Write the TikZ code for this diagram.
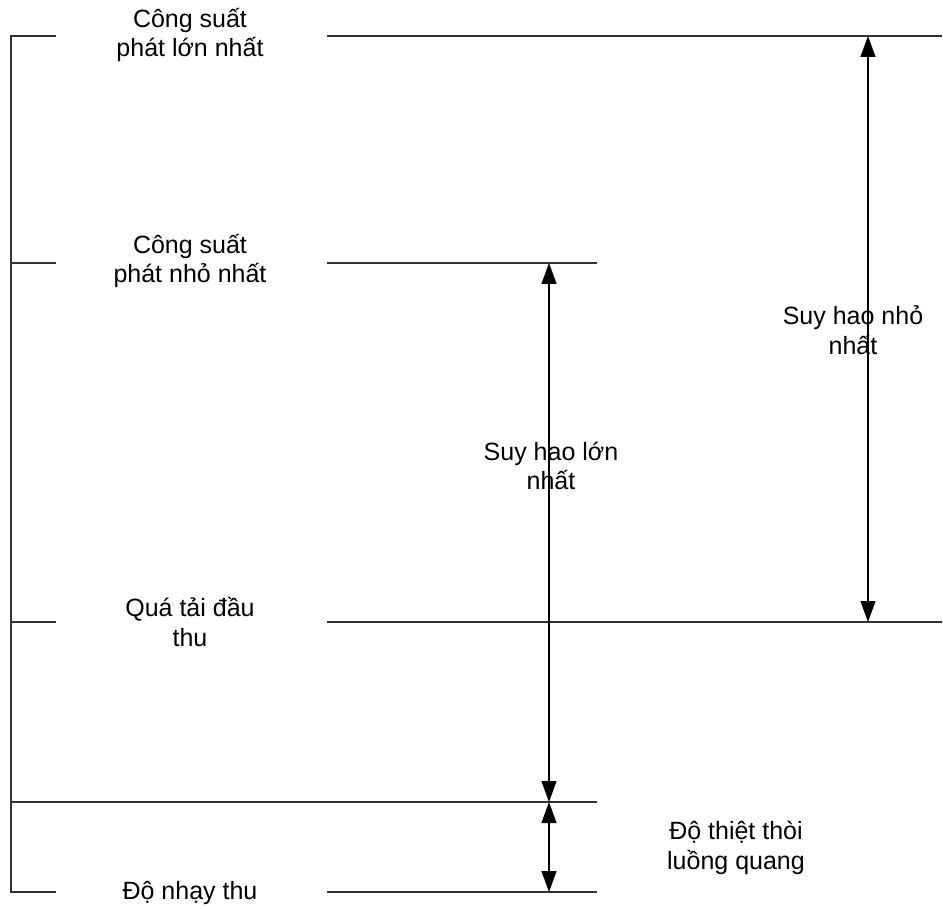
\documentclass[tikz,border=0pt]{standalone}
\usepackage{fontspec}
\setmainfont{Liberation Sans}
\usetikzlibrary{arrows.meta}
\begin{document}
\begin{tikzpicture}[x=1pt,y=-1pt,
  lvl/.style={line width=1.1pt,draw=black!80},
  dim/.style={line width=1.1pt,{Triangle[length=21pt,width=15pt]}-{Triangle[length=21pt,width=15pt]}},
  lbl/.style={font=\fontsize{25}{29.5}\selectfont,align=center,inner sep=0pt}]
\useasboundingbox (0,0) rectangle (943,909);
% coordinates
\coordinate (L1) at (11,36);   \coordinate (La1) at (56,36);
\coordinate (R1a) at (327,36); \coordinate (R1b) at (942,36);
\coordinate (L2) at (11,263);  \coordinate (La2) at (56,263);
\coordinate (R2a) at (327,263);\coordinate (R2b) at (597,263);
\coordinate (L3) at (11,622);  \coordinate (La3) at (56,622);
\coordinate (R3a) at (327,622);\coordinate (R3b) at (942,622);
\coordinate (L4) at (11,802);  \coordinate (R4b) at (597,802);
\coordinate (L5) at (11,892);  \coordinate (La5) at (56,892);
\coordinate (R5a) at (327,892);\coordinate (R5b) at (597,892);
% arrow ends
\coordinate (A1t) at (868,36);  \coordinate (A1b) at (868,622);
\coordinate (A2t) at (549,263); \coordinate (A2b) at (549,802);
\coordinate (A3t) at (549,802); \coordinate (A3b) at (549,892);
% level lines
\draw[lvl] (La1) -- (L1) -- (L5) -- (La5);
\draw[lvl] (L2) -- (La2);
\draw[lvl] (L3) -- (La3);
\draw[lvl] (L4) -- (R4b);
\draw[lvl] (R1a) -- (R1b);
\draw[lvl] (R2a) -- (R2b);
\draw[lvl] (R3a) -- (R3b);
\draw[lvl] (R5a) -- (R5b);
% dimension arrows
\draw[dim] (A1t) -- (A1b);
\draw[dim] (A2t) -- (A2b);
\draw[dim] (A3t) -- (A3b);
% labels
\node[lbl] (t1) at (190,35) {Công suất\\phát lớn nhất};
\node[lbl] (t2) at (190,261) {Công suất\\phát nhỏ nhất};
\node[lbl] (t3) at (190,622) {Quá tải đầu\\thu};
\node[lbl] (t4) at (190,893) {Độ nhạy thu};
\node[lbl] (t5) at (551,466) {Suy hao lớn\\nhất};
\node[lbl] (t6) at (853,330) {Suy hao nhỏ\\nhất};
\node[lbl] (t7) at (736,848) {Độ thiệt thòi\\luồng quang};
\end{tikzpicture}
\end{document}
